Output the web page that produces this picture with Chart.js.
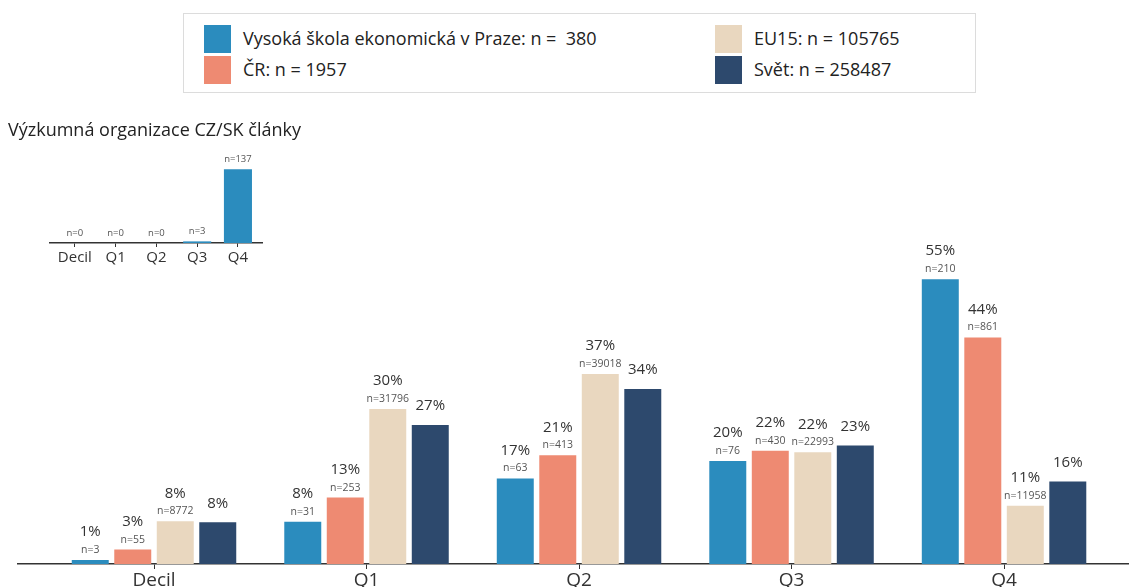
<!DOCTYPE html>
<html>
<head>
<meta charset="utf-8">
<script src="https://cdn.jsdelivr.net/npm/chart.js@4"></script>
<style>
    html, body { margin: 0; padding: 0; background: #fff; overflow: hidden; width: 1129px; height: 587px; font-family: 'Open Sans', sans-serif; }
    #main { position: absolute; left: 0; top: 0; }
    #inset { position: absolute; left: 0; top: 140px; }
    #insetTitle { position: absolute; left: 8px; top: 117px; font-size: 18px; color: #222; white-space: nowrap; }
    #legend { position: absolute; left: 183px; top: 13px; width: 791px; height: 78px; border: 1px solid #dcdcdc; background: #fff; }
    .sw { position: absolute; width: 27px; height: 28px; }
    .lt { position: absolute; font-size: 18px; color: #222; white-space: pre; line-height: 22px; }
</style>
</head>
<body>
<canvas id="main" width="1129" height="594"></canvas>
<div id="insetTitle">Výzkumná organizace CZ/SK články</div>
<canvas id="inset" width="275" height="130"></canvas>
<div id="legend"></div>
<script>
const categories = ['Decil', 'Q1', 'Q2', 'Q3', 'Q4'];
const seriesNames = ['Vysoká škola ekonomická v Praze', 'ČR', 'EU15', 'Svět'];
const seriesTotals = ['  380', ' 1957', ' 105765', ' 258487'];
const colors = ['#2b8cbe', '#ee8a72', '#e9d7bf', '#2d496d'];

// percentages per category
const vseValues = [0.8, 8.2, 16.6, 20.0, 55.3];
const crValues = [2.8, 12.9, 21.1, 22.0, 44.0];
const eu15Values = [8.3, 30.1, 36.9, 21.7, 11.3];
const svetValues = [8.1, 27.0, 34.0, 23.0, 16.0];

// article counts shown above bars
const vseCounts = [3, 31, 63, 76, 210];
const crCounts = [55, 253, 413, 430, 861];
const eu15Counts = [8772, 31796, 39018, 22993, 11958];

// inset: research organisation CZ/SK articles
const insetCounts = [0, 0, 0, 3, 137];

const allValues = [vseValues, crValues, eu15Values, svetValues];
const allCounts = [vseCounts, crCounts, eu15Counts, null];

// legend
const legend = document.getElementById('legend');
const legendPos = [[20, 11, 59], [20, 42, 59], [531, 11, 570], [531, 42, 570]];
seriesNames.forEach((name, i) => {
    const [sx, sy, tx] = legendPos[i];
    const sw = document.createElement('div');
    sw.className = 'sw';
    sw.style.left = sx + 'px';
    sw.style.top = sy + 'px';
    sw.style.background = colors[i];
    legend.appendChild(sw);
    const t = document.createElement('div');
    t.className = 'lt';
    t.style.left = tx + 'px';
    t.style.top = (sy + 2) + 'px';
    t.textContent = name + ': n =' + seriesTotals[i];
    legend.appendChild(t);
});

const toPoints = arr => arr.map((v, i) => ({ x: i, y: v }));

const barLabels = {
    id: 'barLabels',
    afterDatasetsDraw(chart, args, opts) {
        const ctx = chart.ctx;
        ctx.save();
        ctx.textAlign = 'center';
        ctx.textBaseline = 'middle';
        chart.data.datasets.forEach((ds, di) => {
            const meta = chart.getDatasetMeta(di);
            meta.data.forEach((bar, i) => {
                const counts = opts.counts[di];
                const top = bar.y;
                if (counts) {
                    ctx.font = opts.nFont + 'px "Open Sans"';
                    ctx.fillStyle = '#555';
                    ctx.fillText('n=' + counts[i], bar.x, top - opts.nGap);
                }
                if (opts.showPct) {
                    ctx.font = '15px "Open Sans"';
                    ctx.fillStyle = '#333';
                    const off = counts ? 28 : 19;
                    ctx.fillText(Math.round(ds.data[i].y) + '%', bar.x, top - off);
                }
            });
        });
        ctx.restore();
    }
};

const catTicks = axis => { axis.ticks = categories.map((c, i) => ({ value: i })); };

new Chart(document.getElementById('main').getContext('2d'), {
    type: 'bar',
    data: {
        datasets: allValues.map((vals, i) => ({
            label: seriesNames[i],
            data: toPoints(vals),
            backgroundColor: colors[i],
            borderWidth: 0,
            categoryPercentage: 0.8,
            barPercentage: 0.87
        }))
    },
    options: {
        responsive: false,
        animation: false,
        layout: { padding: { top: 255, left: 18, right: 0, bottom: 0 } },
        scales: {
            x: {
                type: 'linear',
                min: -0.64,
                max: 4.588,
                offset: false,
                afterBuildTicks: catTicks,
                afterFit: s => { s.height = 30; },
                grid: { display: true, offset: false, drawOnChartArea: false, drawTicks: true, tickLength: 5, color: '#333' },
                border: { display: true, color: '#333', width: 1.5 },
                ticks: {
                    padding: 0,
                    color: '#333',
                    font: { family: 'Open Sans', size: 19 },
                    callback: v => categories[v] ?? ''
                }
            },
            y: { display: false, min: 0, max: 60 }
        },
        plugins: {
            legend: { display: false },
            tooltip: { enabled: false },
            barLabels: { counts: allCounts, nFont: 10.5, nGap: 10, showPct: true }
        }
    },
    plugins: [barLabels]
});

new Chart(document.getElementById('inset').getContext('2d'), {
    type: 'bar',
    data: {
        datasets: [{
            data: toPoints(insetCounts),
            backgroundColor: colors[0],
            borderWidth: 0,
            categoryPercentage: 0.8,
            barPercentage: 0.86
        }]
    },
    options: {
        responsive: false,
        animation: false,
        layout: { padding: { top: 17, left: 50, right: 13, bottom: 0 } },
        scales: {
            x: {
                type: 'linear',
                min: -0.61,
                max: 4.59,
                offset: false,
                afterBuildTicks: catTicks,
                afterFit: s => { s.height = 27; },
                grid: { display: true, offset: false, drawOnChartArea: false, drawTicks: true, tickLength: 4, color: '#333' },
                border: { display: true, color: '#333', width: 1.5 },
                ticks: {
                    padding: 2,
                    color: '#333',
                    font: { family: 'Open Sans', size: 15 },
                    callback: v => categories[v] ?? ''
                }
            },
            y: { display: false, min: 0, max: 160 }
        },
        plugins: {
            legend: { display: false },
            tooltip: { enabled: false },
            barLabels: { counts: [insetCounts], nFont: 9.5, nGap: 10, showPct: false }
        }
    },
    plugins: [barLabels]
});
</script>
</body>
</html>
